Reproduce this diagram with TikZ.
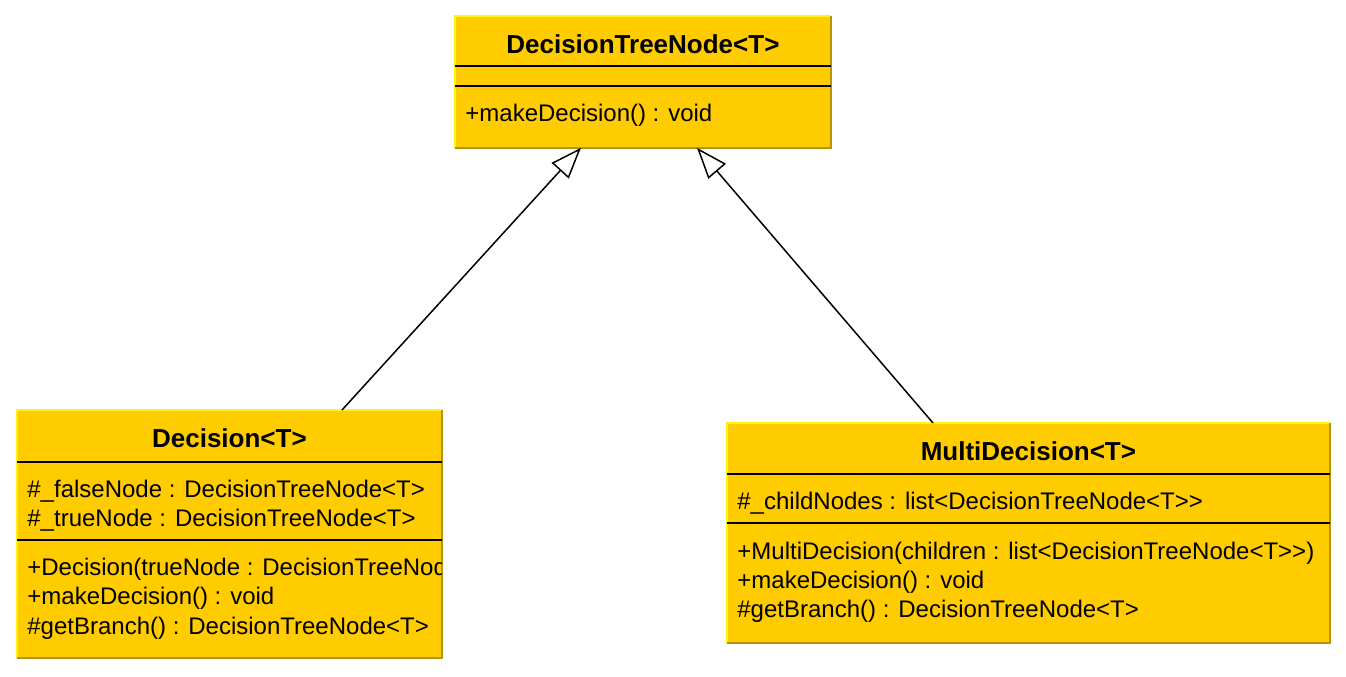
\documentclass[tikz,border=0pt]{standalone}
\usepackage{fontspec}
\setmainfont{Liberation Sans}
\usetikzlibrary{calc, positioning}
\usetikzlibrary{arrows.meta}

\definecolor{umlfill}{HTML}{FFCC00}
\definecolor{umllight}{HTML}{FFF21A}
\definecolor{umldark}{HTML}{B3940F}

\tikzset{
  umlbox/.style={rectangle, fill=umlfill, inner sep=0pt, anchor=north west},
  umltitle/.style={font=\fontsize{13}{15}\selectfont\bfseries, inner sep=0pt},
  member/.style={font=\fontsize{12}{13}\selectfont, anchor=base west, inner sep=0pt,
    text height=8.8pt, text depth=2.4pt},
  divider/.style={line width=0.75pt, black},
  inherit/.style={line width=0.75pt, -{Triangle[open, length=15.5pt, width=11.5pt, fill=white]}}
}

% light top/left edge, dark bottom/right edge
\newcommand{\boxedges}[1]{%
  \draw[umllight, line width=1pt] (#1.south west) -- (#1.north west) -- (#1.north east);
  \draw[umldark, line width=1.2pt] (#1.north east) -- (#1.south east) -- (#1.south west);
}

\begin{document}
\begin{tikzpicture}[x=0.5pt, y=-0.5pt]
\useasboundingbox (0,0) rectangle (1346,676);

% base class
\node[umlbox, minimum width=187.5pt, minimum height=65.5pt] (tree) at (455,16) {};
\boxedges{tree}
\node[umltitle] (treetitle) at ($(tree.north)+(0,28)$) {DecisionTreeNode<T>};
\draw[divider] ($(tree.north west)+(0,50)$) -- ($(tree.north east)+(0,50)$);
\draw[divider] ($(tree.north west)+(0,70)$) -- ($(tree.north east)+(0,70)$);
\node[member] (treem1) at ($(tree.north west)+(10,105)$) {+makeDecision() : void};

% Decision
\node[umlbox, minimum width=212pt, minimum height=123.5pt] (dec) at (17,410) {};
\boxedges{dec}
\node[umltitle] (dectitle) at ($(dec.north)+(0,28)$) {Decision<T>};
\draw[divider] ($(dec.north west)+(0,52)$) -- ($(dec.north east)+(0,52)$);
\node[member] (deca1) at ($(dec.north west)+(10,87)$) {\#\_falseNode : DecisionTreeNode<T>};
\node[member] (deca2) at ($(dec.north west)+(10,116)$) {\#\_trueNode : DecisionTreeNode<T>};
\draw[divider] ($(dec.north west)+(0,130)$) -- ($(dec.north east)+(0,130)$);
\begin{scope}
  \clip (dec.north west) rectangle (dec.south east);
  \node[member] (decm1) at ($(dec.north west)+(10,165)$) {+Decision(trueNode : DecisionTreeNode<T>, falseNode : DecisionTreeNode<T>)};
\end{scope}
\node[member] (decm2) at ($(dec.north west)+(10,194)$) {+makeDecision() : void};
\node[member] (decm3) at ($(dec.north west)+(10,224)$) {\#getBranch() : DecisionTreeNode<T>};

% MultiDecision
\node[umlbox, minimum width=301pt, minimum height=109.5pt] (multi) at (727,423) {};
\boxedges{multi}
\node[umltitle] (multititle) at ($(multi.north)+(0,28)$) {MultiDecision<T>};
\draw[divider] ($(multi.north west)+(0,51)$) -- ($(multi.north east)+(0,51)$);
\node[member] (multia1) at ($(multi.north west)+(10,86)$) {\#\_childNodes : list<DecisionTreeNode<T>{}>};
\draw[divider] ($(multi.north west)+(0,100)$) -- ($(multi.north east)+(0,100)$);
\node[member] (multim1) at ($(multi.north west)+(10,136)$) {+MultiDecision(children : list<DecisionTreeNode<T>{}>)};
\node[member] (multim2) at ($(multi.north west)+(10,165)$) {+makeDecision() : void};
\node[member] (multim3) at ($(multi.north west)+(10,194)$) {\#getBranch() : DecisionTreeNode<T>};

% generalisations
\coordinate (decup) at ($(dec.north west)+(325,0)$);
\coordinate (treeleft) at ($(tree.south west)+(126,0)$);
\coordinate (multiup) at ($(multi.north west)+(206,0)$);
\coordinate (treeright) at ($(tree.south west)+(242,0)$);

\draw[inherit] (decup) -- (treeleft);
\draw[inherit] (multiup) -- (treeright);

\end{tikzpicture}
\end{document}
